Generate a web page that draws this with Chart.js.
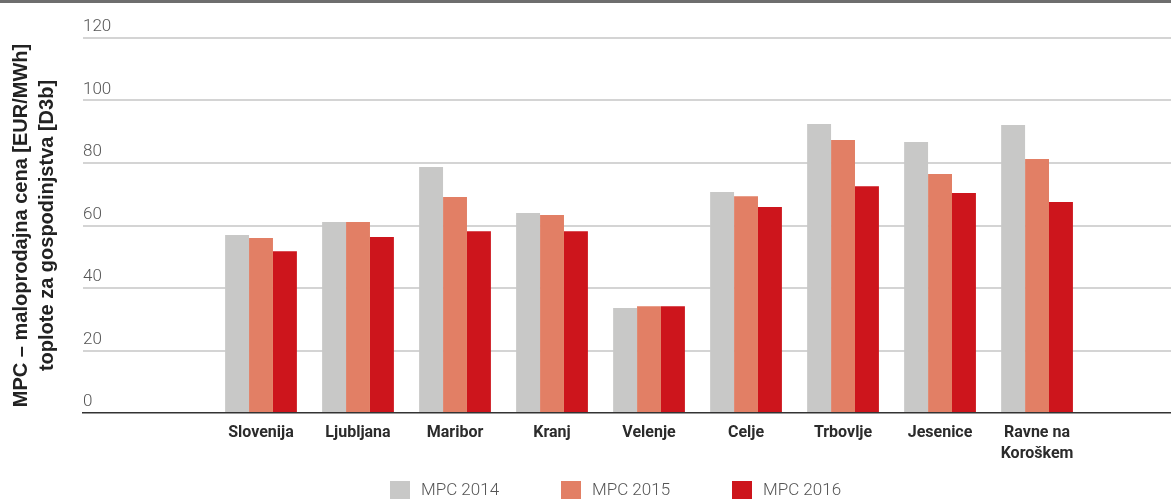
<!DOCTYPE html>
<html>
<head>
<meta charset="utf-8">
<script src="https://cdn.jsdelivr.net/npm/chart.js@4.4.1/dist/chart.umd.min.js"></script>
<style>
    html, body { margin: 0; padding: 0; background: #fff; }
    #wrap { width: 1171px; height: 496px; border-top: 3px solid #6e6e6e; }
    canvas { display: block; }
</style>
</head>
<body>
<div id="wrap"><canvas id="chart" width="1171" height="496"></canvas></div>
<script>
const categories = ['Slovenija', 'Ljubljana', 'Maribor', 'Kranj', 'Velenje', 'Celje', 'Trbovlje', 'Jesenice', ['Ravne na', 'Koroškem']];
const mpc2014 = [57.0, 61.1, 78.7, 64.0, 33.6, 70.7, 92.5, 86.7, 92.2];
const mpc2015 = [56.0, 61.1, 69.1, 63.4, 34.2, 69.4, 87.4, 76.5, 81.3];
const mpc2016 = [51.8, 56.3, 58.2, 58.2, 34.2, 65.9, 72.6, 70.4, 67.5];
const yTicks = [0, 20, 40, 60, 80, 100, 120];
const seriesLabels = ['MPC 2014', 'MPC 2015', 'MPC 2016'];
const yTitle = ['MPC – maloprodajna cena [EUR/MWh]', 'toplote za gospodinjstva [D3b]'];

const SANS = 'Roboto, "Noto Sans", sans-serif';
const colors = ['#c8c8c7', '#e27f65', '#cd151c'];

function barDataset(label, values, color) {
    return {
        label,
        data: values.map((v, i) => ({ x: i, y: v })),
        backgroundColor: color,
        borderWidth: 0,
        categoryPercentage: 0.74,
        barPercentage: 1.0,
    };
}

// legend drawn under the axis, like the original (items on a fixed pitch)
const bottomLegend = {
    id: 'bottomLegend',
    afterDraw(chart) {
        const ctx = chart.ctx;
        const startX = chart.chartArea.left + 307;
        const top = 478;
        ctx.save();
        ctx.font = `300 17px ${SANS}`;
        ctx.textBaseline = 'middle';
        ctx.textAlign = 'left';
        chart.data.datasets.forEach((ds, i) => {
            const x = startX + i * 171;
            ctx.fillStyle = ds.backgroundColor;
            ctx.fillRect(x, top, 20, 22);
            ctx.fillStyle = '#555';
            ctx.fillText(ds.label, x + 31, top + 10);
        });
        ctx.restore();
    },
};

new Chart(document.getElementById('chart').getContext('2d'), {
    type: 'bar',
    data: {
        datasets: [
            barDataset(seriesLabels[0], mpc2014, colors[0]),
            barDataset(seriesLabels[1], mpc2015, colors[1]),
            barDataset(seriesLabels[2], mpc2016, colors[2]),
        ],
    },
    options: {
        responsive: false,
        animation: false,
        layout: { padding: { top: 35, bottom: 0, left: 0, right: 0 } },
        plugins: {
            legend: { display: false },
            tooltip: { enabled: false },
        },
        scales: {
            x: {
                type: 'linear',
                offset: false,
                bounds: 'data',
                min: -1.835,
                max: 9.381,
                afterBuildTicks(scale) {
                    scale.ticks = categories.map((_, i) => ({ value: i }));
                },
                afterFit(scale) {
                    scale.height = 86;
                },
                grid: { color: 'rgba(0,0,0,0)', drawTicks: false, offset: false },
                border: { display: true, color: '#333', width: 1.5 },
                ticks: {
                    autoSkip: false,
                    maxRotation: 0,
                    padding: 10,
                    color: '#2b2b2b',
                    font: { family: SANS, size: 16, weight: 'bold', lineHeight: 1.3 },
                    callback(value) {
                        return categories[value];
                    },
                },
            },
            y: {
                min: 0,
                max: 120,
                afterBuildTicks(scale) {
                    scale.ticks = yTicks.map(v => ({ value: v }));
                },
                afterFit(scale) {
                    scale.width = 83;
                },
                grid: {
                    drawTicks: false,
                    lineWidth: 2,
                    color: ctx => (ctx.tick && ctx.tick.value === 0 ? 'rgba(0,0,0,0)' : '#d4d4d4'),
                },
                border: { display: false },
                ticks: {
                    mirror: true,
                    padding: 0,
                    labelOffset: -11,
                    color: '#555',
                    font: { family: SANS, size: 17, weight: 300 },
                },
                title: {
                    display: true,
                    text: yTitle,
                    color: '#222',
                    font: { family: '"Liberation Sans", Arial, sans-serif', size: 20, weight: 'bold', lineHeight: 1.3 },
                    padding: { top: 8, bottom: 0 },
                },
            },
        },
    },
    plugins: [bottomLegend],
});
</script>
</body>
</html>
